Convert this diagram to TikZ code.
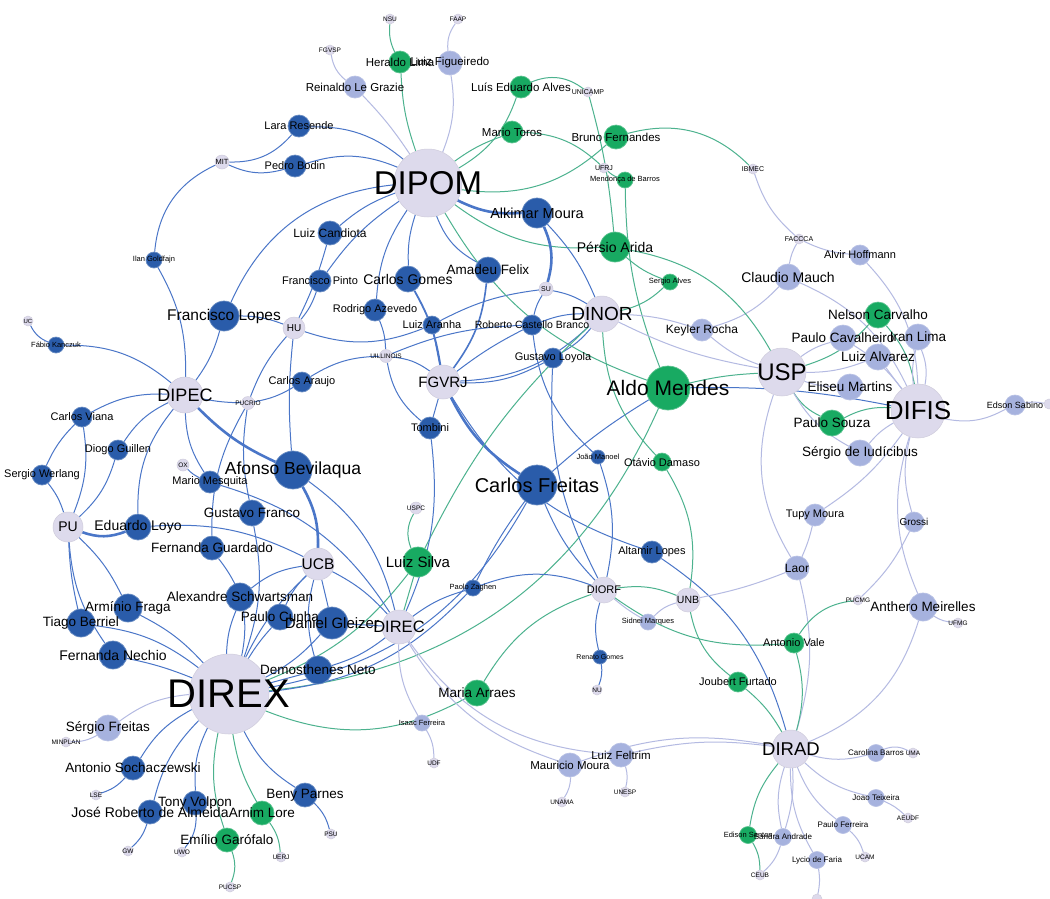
\documentclass[tikz,border=0pt]{standalone}
\usepackage{fontspec}
\setmainfont{Liberation Sans}
\pgfdeclarelayer{bg}\pgfdeclarelayer{fg}\pgfsetlayers{bg,main,fg}
\definecolor{cB}{RGB}{42,92,170}
\definecolor{cG}{RGB}{24,170,98}
\definecolor{cL}{RGB}{166,178,222}
\definecolor{cI}{RGB}{221,218,236}
\definecolor{eB}{RGB}{74,118,200}
\definecolor{eG}{RGB}{76,178,142}
\definecolor{eL}{RGB}{180,186,226}
\tikzset{
 nb/.style={circle,inner sep=0pt,minimum size=#1,fill=cB,draw=cB!70!white,line width=0.7pt},
 ng/.style={circle,inner sep=0pt,minimum size=#1,fill=cG,draw=cG!70!white,line width=0.7pt},
 nl/.style={circle,inner sep=0pt,minimum size=#1,fill=cL,draw=cL!80!white,line width=0.7pt},
 ni/.style={circle,inner sep=0pt,minimum size=#1,fill=cI,draw=cI!85!gray,line width=0.5pt},
 L/.style={font=\fontsize{#1}{#1}\selectfont,inner sep=0pt,text=black},
 eb/.style={draw=eB,line width=1pt},
 ebt/.style={draw=eB,line width=2.6pt},
 eg/.style={draw=eG,line width=1pt},
 el/.style={draw=eL,line width=1pt},
}
\begin{document}
\begin{tikzpicture}[x=1pt,y=1pt]
\useasboundingbox (0,0) rectangle (1050,-898);
% ---------- institutions / departments
\node[ni=68pt] (dipom) at (428,-183) {};
\node[ni=80pt] (direx) at (229,-694) {};
\node[ni=36pt] (dipec) at (185,-395) {};
\node[ni=36pt] (dinor) at (602,-314) {};
\node[ni=54pt] (difis) at (918,-411) {};
\node[ni=48pt] (usp) at (782,-372) {};
\node[ni=38pt] (dirad) at (791,-749) {};
\node[ni=34pt] (direc) at (399,-627) {};
\node[ni=32pt] (ucb) at (318,-564) {};
\node[ni=34pt] (fgvrj) at (443,-382) {};
\node[ni=26pt] (diorf) at (604,-590) {};
\node[ni=30pt] (pu) at (68,-527) {};
\node[ni=24pt] (unb) at (688,-600) {};
\node[ni=22pt] (hu) at (294,-328) {};
\node[ni=13pt] (pucrio) at (248,-403) {};
\node[ni=13pt] (uill) at (386,-356) {};
\node[ni=14pt] (su) at (546,-289) {};
\node[ni=14pt] (mit) at (222,-162) {};
\node[ni=12pt] (ox) at (183,-465) {};
\node[ni=12pt] (uspc) at (416,-508) {};
\node[ni=10pt] (uc) at (28,-321) {};
\node[ni=10pt] (fgvsp) at (330,-50) {};
\node[ni=10pt] (nsu) at (390,-19) {};
\node[ni=10pt] (faap) at (458,-19) {};
\node[ni=10pt] (unicamp) at (588,-92) {};
\node[ni=10pt] (ufrj) at (604,-168) {};
\node[ni=10pt] (ibmec) at (753,-169) {};
\node[ni=10pt] (faccca) at (799,-239) {};
\node[ni=10pt] (minplan) at (66,-742) {};
\node[ni=10pt] (lse) at (96,-795) {};
\node[ni=10pt] (gw) at (128,-851) {};
\node[ni=10pt] (uwo) at (182,-852) {};
\node[ni=10pt] (pucsp) at (230,-887) {};
\node[ni=10pt] (uerj) at (281,-857) {};
\node[ni=10pt] (psu) at (331,-834) {};
\node[ni=10pt] (udf) at (434,-763) {};
\node[ni=10pt] (unama) at (562,-802) {};
\node[ni=10pt] (unesp) at (625,-792) {};
\node[ni=10pt] (nu) at (597,-690) {};
\node[ni=10pt] (pucmg) at (858,-600) {};
\node[ni=10pt] (ufmg) at (958,-623) {};
\node[ni=10pt] (uma) at (913,-753) {};
\node[ni=10pt] (aeudf) at (908,-818) {};
\node[ni=10pt] (ucam) at (865,-857) {};
\node[ni=10pt] (ceub) at (760,-875) {};
\node[ni=10pt] (xbot) at (817,-899) {};
\node[ni=10pt] (xright) at (1049,-404) {};
% ---------- dark blue people
\node[nb=22pt] (lara) at (299,-126) {};
\node[nb=22pt] (bodin) at (295,-166) {};
\node[nb=16pt] (ilan) at (154,-260) {};
\node[nb=24pt] (candiota) at (330,-233) {};
\node[nb=22pt] (fpinto) at (320,-281) {};
\node[nb=26pt] (cgomes) at (408,-279) {};
\node[nb=26pt] (amadeu) at (488,-270) {};
\node[nb=30pt] (alkimar) at (537,-213) {};
\node[nb=22pt] (razevedo) at (375,-310) {};
\node[nb=18pt] (laranha) at (432,-325) {};
\node[nb=20pt] (rcb) at (532,-325) {};
\node[nb=20pt] (gloyola) at (553,-358) {};
\node[nb=30pt] (flopes) at (224,-316) {};
\node[nb=16pt] (fabio) at (56,-345) {};
\node[nb=20pt] (caraujo) at (302,-382) {};
\node[nb=20pt] (cviana) at (82,-417) {};
\node[nb=20pt] (guillen) at (118,-450) {};
\node[nb=20pt] (werlang) at (42,-475) {};
\node[nb=22pt] (tombini) at (430,-428) {};
\node[nb=22pt] (mesquita) at (210,-482) {};
\node[nb=38pt] (afonso) at (293,-470) {};
\node[nb=26pt] (gfranco) at (252,-513) {};
\node[nb=26pt] (eloyo) at (138,-527) {};
\node[nb=24pt] (guardado) at (212,-548) {};
\node[nb=40pt] (cfreitas) at (537,-485) {};
\node[nb=14pt] (joao) at (598,-457) {};
\node[nb=22pt] (altamir) at (652,-552) {};
\node[nb=16pt] (paolo) at (473,-588) {};
\node[nb=28pt] (schwarts) at (240,-597) {};
\node[nb=26pt] (pcunha) at (280,-617) {};
\node[nb=32pt] (gleizer) at (332,-623) {};
\node[nb=28pt] (demost) at (318,-670) {};
\node[nb=28pt] (arminio) at (128,-608) {};
\node[nb=28pt] (berriel) at (81,-623) {};
\node[nb=28pt] (nechio) at (113,-655) {};
\node[nb=24pt] (socha) at (133,-768) {};
\node[nb=24pt] (jrobert) at (150,-812) {};
\node[nb=24pt] (volpon) at (195,-803) {};
\node[nb=24pt] (beny) at (305,-795) {};
\node[nb=14pt] (renato) at (600,-657) {};
% ---------- green people
\node[ng=22pt] (heraldo) at (400,-62) {};
\node[ng=22pt] (luised) at (521,-87) {};
\node[ng=22pt] (toros) at (512,-132) {};
\node[ng=24pt] (bruno) at (616,-137) {};
\node[ng=16pt] (mendonca) at (625,-180) {};
\node[ng=30pt] (persio) at (615,-247) {};
\node[ng=16pt] (salves) at (670,-282) {};
\node[ng=44pt] (aldo) at (668,-388) {};
\node[ng=18pt] (otavio) at (662,-462) {};
\node[ng=26pt] (nelson) at (878,-315) {};
\node[ng=26pt] (psouza) at (832,-423) {};
\node[ng=30pt] (lsilva) at (418,-562) {};
\node[ng=26pt] (arraes) at (477,-693) {};
\node[ng=20pt] (avale) at (794,-643) {};
\node[ng=20pt] (joubert) at (738,-682) {};
\node[ng=24pt] (arnim) at (262,-813) {};
\node[ng=24pt] (emilio) at (227,-840) {};
\node[ng=17pt] (edison) at (748,-835) {};
% ---------- light blue people
\node[nl=24pt] (figuei) at (450,-63) {};
\node[nl=22pt] (grazie) at (355,-87) {};
\node[nl=26pt] (claudio) at (788,-277) {};
\node[nl=20pt] (alvir) at (860,-255) {};
\node[nl=22pt] (keyler) at (702,-330) {};
\node[nl=26pt] (cavalh) at (843,-338) {};
\node[nl=26pt] (iran) at (918,-337) {};
\node[nl=26pt] (alvarez) at (878,-357) {};
\node[nl=26pt] (eliseu) at (850,-387) {};
\node[nl=26pt] (iudic) at (860,-453) {};
\node[nl=20pt] (sabino) at (1015,-405) {};
\node[nl=22pt] (tupy) at (815,-515) {};
\node[nl=20pt] (grossi) at (914,-522) {};
\node[nl=24pt] (laor) at (797,-568) {};
\node[nl=28pt] (anthero) at (923,-607) {};
\node[nl=16pt] (sidnei) at (648,-622) {};
\node[nl=26pt] (sfreitas) at (108,-728) {};
\node[nl=16pt] (isaac) at (422,-723) {};
\node[nl=24pt] (mauricio) at (570,-765) {};
\node[nl=24pt] (feltrim) at (621,-755) {};
\node[nl=17pt] (carolina) at (876,-753) {};
\node[nl=17pt] (jteix) at (876,-798) {};
\node[nl=17pt] (pferr) at (843,-825) {};
\node[nl=17pt] (andrade) at (783,-837) {};
\node[nl=17pt] (lycio) at (817,-860) {};
% ---------- edges
\begin{pgfonlayer}{bg}
\fill[white] (0,0) rectangle (1050,-898);
% top
\draw[eg] (nsu) to[bend right=15] (heraldo);
\draw[el] (faap) to[bend right=20] (figuei);
\draw[eg] (heraldo) to[bend right=8] (dipom);
\draw[el] (figuei) to[bend left=15] (dipom);
\draw[el] (fgvsp) to[bend right=20] (grazie);
\draw[el] (grazie) to[bend left=5] (dipom);
\draw[eb] (lara) to[bend left=20] (dipom);
\draw[eb] (bodin) to[bend left=20] (dipom);
\draw[eb] (mit) to[bend right=25] (lara);
\draw[eb] (mit) to[bend right=20] (bodin);
\draw[eb] (mit) to[bend right=30] (ilan);
\draw[eb] (ilan) to[bend left=15] (dipec);
\draw[eb] (candiota) to[bend left=10] (dipom);
\draw[eb] (fpinto) to[bend left=10] (dipom);
\draw[eb] (flopes) to[bend left=30] (dipom);
\draw[eb] (cgomes) to[bend left=10] (dipom);
\draw[eb] (razevedo) to[bend left=15] (dipom);
\draw[eb] (amadeu) to[bend left=20] (dipom);
\draw[ebt] (dipom) to[bend right=15] (alkimar);
\draw[eg] (dipom) to[bend right=20] (persio);
\draw[eg] (dipom) to[bend right=25] (bruno);
\draw[eg] (dipom) to[bend left=8] (toros);
\draw[eg] (dipom) to[bend right=20] (luised);
\draw[eg] (luised) to[bend left=30] (unicamp);
\draw[eg] (unicamp) to[bend left=5] (persio);
\draw[eg] (toros) to[bend left=20] (ufrj);
\draw[eg] (ufrj) to[bend right=10] (mendonca);
\draw[eg] (bruno) to[bend left=30] (ibmec);
\draw[eg] (mendonca) to[bend right=10] (aldo);
\draw[el] (ibmec) to[bend right=15] (faccca);
\draw[el] (faccca) to[bend right=10] (claudio);
\draw[el] (faccca) to[bend right=10] (alvir);
\draw[el] (alvir) to[bend left=20] (difis);
\draw[el] (claudio) to[bend left=20] (difis);
\draw[el] (keyler) to[bend right=15] (claudio);
\draw[el] (dinor) to[bend left=8] (keyler);
\draw[el] (dinor) to[bend right=8] (usp);
\draw[el] (keyler) to[bend right=10] (usp);
\draw[eg] (persio) to[bend right=10] (salves);
\draw[eg] (salves) to[bend left=15] (dinor);
\draw[eg] (persio) to[bend left=25] (usp);
\draw[ebt] (alkimar) to[bend left=20] (su);
\draw[eb] (alkimar) to[bend left=10] (dinor);
\draw[eb] (su) to[bend right=10] (rcb);
\draw[eb] (laranha) to[bend left=10] (su);
\draw[eb] (su) to[bend left=10] (dinor);
\draw[eb,line width=1.6pt] (amadeu) to[bend left=15] (fgvrj);
\draw[eb,line width=1.8pt] (cgomes) to[bend left=10] (fgvrj);
\draw[eb] (hu) to[bend right=20] (laranha);
\draw[eb] (rcb) to[bend right=5] (fgvrj);
\draw[eb] (fgvrj) to[bend right=15] (gloyola);
\draw[eb] (fgvrj) to[bend right=20] (dinor);
\draw[eb] (rcb) to[bend left=10] (dinor);
\draw[eb] (gloyola) to[bend right=10] (dinor);
\draw[eb] (rcb) to[bend right=20] (joao);
\draw[eb] (joao) to[bend left=15] (diorf);
\draw[ebt] (fgvrj) to[bend right=15] (cfreitas);
\draw[eb] (cfreitas) to[bend left=5] (aldo);
\draw[eb] (cfreitas) to[bend right=10] (diorf);
\draw[eb] (cfreitas) to[bend right=5] (paolo);
\draw[eb] (fgvrj) to[bend right=20] (altamir);
\draw[eb] (altamir) to[bend left=20] (dirad);
\draw[eb] (gloyola) to[bend right=15] (diorf);
\draw[eg] (dinor) to[bend right=20] (otavio);
\draw[eg] (otavio) to[bend left=20] (unb);
\draw[eg] (lsilva) to[bend left=10] (dinor);
\draw[eg] (dipom) to[bend right=20] (aldo);
\draw[eg] (uspc) to[bend right=25] (lsilva);
\draw[eg] (direx) to[bend right=15] (lsilva);
\draw[eg] (direx) to[bend right=30] (aldo);
\draw[eb] (direx) to[bend right=25] (cfreitas);
\draw[eb] (direx) to[bend right=20] (paolo);
\draw[eg] (direx) to[bend right=25] (arraes);
\draw[eg] (arraes) to[bend left=20] (diorf);
\draw[eg] (diorf) to[bend right=20] (avale);
\draw[eg] (diorf) to[bend left=15] (unb);
\draw[eg] (unb) to[bend right=20] (joubert);
\draw[el] (diorf) to[bend right=5] (sidnei);
\draw[el] (unb) to[bend right=15] (sidnei);
\draw[eb] (diorf) to[bend right=15] (renato);
\draw[eb] (renato) to[bend left=15] (nu);
\draw[eb] (paolo) to[bend left=20] (diorf);
\draw[eb] (direc) to[bend left=10] (paolo);
\draw[el] (direc) to[bend right=15] (isaac);
\draw[el] (isaac) to[bend left=15] (udf);
\draw[el] (direc) to[bend right=20] (mauricio);
\draw[el] (direc) to[bend right=25] (feltrim);
\draw[el] (mauricio) to[bend left=15] (unama);
\draw[el] (feltrim) to[bend left=15] (unesp);
\draw[el] (mauricio) to[bend left=15] (dirad);
\draw[el] (feltrim) to[bend left=10] (dirad);
\draw[el] (unb) to[bend right=5] (laor);
\draw[el] (laor) to[bend right=5] (tupy);
\draw[el] (tupy) to[bend right=10] (difis);
\draw[el] (usp) to[bend right=25] (laor);
\draw[el] (laor) to[bend left=15] (dirad);
\draw[eg] (avale) to[bend left=25] (pucmg);
\draw[eg] (avale) to[bend left=15] (dirad);
\draw[eg] (joubert) to[bend left=10] (dirad);
\draw[el] (anthero) to[bend left=25] (dirad);
\draw[el] (anthero) to[bend right=15] (ufmg);
\draw[el] (grossi) to[bend left=10] (pucmg);
\draw[el] (grossi) to[bend left=15] (difis);
\draw[el] (difis) to[bend right=20] (anthero);
\draw[el] (difis) to[bend right=20] (sabino);
\draw[el] (sabino) to[bend left=10] (xright);
\draw[eg] (usp) to[bend right=15] (nelson);
\draw[eg] (usp) to[bend right=15] (psouza);
\draw[eg] (psouza) to[bend left=15] (difis);
\draw[el] (usp) to[bend right=15] (iudic);
\draw[el] (iudic) to[bend left=10] (difis);
\draw[el] (usp) to[bend right=10] (eliseu);
\draw[eb] (aldo) to[bend left=6] (difis);
\draw[el] (usp) to[bend left=10] (cavalh);
\draw[el] (cavalh) to[bend left=10] (difis);
\draw[el] (usp) to[bend right=10] (alvarez);
\draw[el] (alvarez) to (difis);
\draw[eg] (nelson) to[bend left=15] (difis);
\draw[el] (iran) to[bend left=15] (difis);
\draw[el] (iran) to[bend right=10] (difis);
\draw[eg] (aldo) to[bend left=5] (usp);
% DIPEC / PU
\draw[eb] (fabio) to[bend left=20] (uc);
\draw[eb] (fabio) to[bend left=20] (dipec);
\draw[eb] (cviana) to[bend left=15] (dipec);
\draw[eb] (cviana) to[bend right=10] (werlang);
\draw[eb] (cviana) to[bend left=15] (pu);
\draw[eb] (guillen) to[bend left=15] (dipec);
\draw[eb] (guillen) to[bend left=15] (pu);
\draw[eb] (werlang) to[bend left=10] (pu);
\draw[eb] (eloyo) to[bend left=20] (dipec);
\draw[ebt] (pu) to[bend right=20] (eloyo);
\draw[eb] (eloyo) to[bend left=15] (ucb);
\draw[eb] (mesquita) to[bend left=15] (dipec);
\draw[eb] (ox) to[bend right=10] (mesquita);
\draw[eb] (mesquita) to[bend left=20] (direc);
\draw[ebt] (dipec) to[bend right=10] (afonso);
\draw[eb] (dipec) to[bend right=5] (pucrio);
\draw[eb] (dipec) to[bend right=10] (flopes);
\draw[eb] (flopes) to[bend left=10] (hu);
\draw[eb] (hu) to[bend right=10] (fpinto);
\draw[eb] (hu) to[bend right=5] (candiota);
\draw[eb] (hu) to[bend right=10] (pucrio);
\draw[eb] (hu) to[bend right=5] (afonso);
\draw[eb] (pucrio) to[bend right=10] (caraujo);
\draw[eb] (caraujo) to[bend left=15] (uill);
\draw[eb] (pucrio) to[bend right=10] (gfranco);
\draw[eb] (pucrio) to[bend right=15] (guardado);
\draw[eb] (uill) to[bend right=10] (razevedo);
\draw[eb] (uill) to[bend right=20] (tombini);
\draw[eb] (uill) to[bend left=15] (fgvrj);
\draw[eb] (uill) to[bend left=10] (rcb);
\draw[eb] (tombini) to (fgvrj);
\draw[eb] (tombini) to[bend left=15] (direc);
\draw[eb] (laranha) to (fgvrj);
\draw[eb] (afonso) to[bend left=20] (direc);
\draw[ebt] (afonso) to[bend left=15] (ucb);
\draw[eb] (gfranco) to[bend left=15] (direx);
\draw[eb] (guardado) to[bend left=25] (direx);
\draw[eb] (schwarts) to[bend right=10] (direx);
\draw[eb] (schwarts) to[bend left=15] (ucb);
\draw[eb] (pcunha) to[bend left=10] (ucb);
\draw[eb] (pcunha) to[bend right=5] (direx);
\draw[eb] (gleizer) to (ucb);
\draw[eb] (gleizer) to[bend left=10] (direx);
\draw[eb] (gleizer) to (direc);
\draw[eb] (ucb) to[bend right=15] (demost);
\draw[eb] (demost) to (direx);
\draw[eb] (demost) to[bend right=10] (direc);
\draw[eb] (ucb) to[bend right=10] (direx);
\draw[eb] (ucb) to[bend left=10] (direc);
\draw[eg] (lsilva) to (direc);
\draw[eb] (pu) to[bend right=5] (berriel);
\draw[eb] (pu) to[bend right=15] (nechio);
\draw[eb] (pu) to[bend left=10] (arminio);
\draw[eb] (berriel) to[bend left=15] (direx);
\draw[eb] (arminio) to[bend left=10] (direx);
\draw[eb] (nechio) to[bend left=5] (direx);
\draw[el] (sfreitas) to[bend left=15] (direx);
\draw[el] (sfreitas) to[bend left=15] (minplan);
\draw[eb] (socha) to[bend left=15] (direx);
\draw[eb] (socha) to[bend left=15] (lse);
\draw[eb] (jrobert) to[bend left=15] (direx);
\draw[eb] (jrobert) to[bend left=15] (gw);
\draw[eb] (volpon) to[bend left=15] (direx);
\draw[eb] (volpon) to[bend left=20] (uwo);
\draw[eg] (emilio) to[bend left=15] (direx);
\draw[eg] (emilio) to[bend left=20] (pucsp);
\draw[eg] (arnim) to[bend left=10] (direx);
\draw[eg] (arnim) to[bend left=15] (uerj);
\draw[eb] (beny) to[bend left=15] (direx);
\draw[eb] (beny) to[bend left=15] (psu);
% DIRAD
\draw[el] (dirad) to[bend right=15] (carolina);
\draw[el] (carolina) to[bend left=25] (uma);
\draw[el] (dirad) to[bend right=15] (jteix);
\draw[el] (jteix) to[bend left=10] (aeudf);
\draw[el] (dirad) to[bend right=15] (pferr);
\draw[el] (pferr) to[bend left=15] (ucam);
\draw[el] (dirad) to[bend right=15] (lycio);
\draw[el] (lycio) to[bend left=10] (xbot);
\draw[el] (dirad) to[bend right=15] (andrade);
\draw[el] (dirad) to[bend left=10] (andrade);
\draw[el] (andrade) to[bend left=15] (ceub);
\draw[eg] (dirad) to[bend right=15] (edison);
\draw[eg] (edison) to[bend left=15] (ceub);
\end{pgfonlayer}
% ---------- labels
\begin{pgfonlayer}{fg}
\node[L=33] at (dipom) {DIPOM};
\node[L=40] at (direx) {DIREX};
\node[L=18] at (dipec) {DIPEC};
\node[L=19] at (dinor) {DINOR};
\node[L=26] at (difis) {DIFIS};
\node[L=24] at (usp) {USP};
\node[L=18.5] at (dirad) {DIRAD};
\node[L=16.5] at (direc) {DIREC};
\node[L=15.5] at (ucb) {UCB};
\node[L=15] at (fgvrj) {FGVRJ};
\node[L=11] at (diorf) {DIORF};
\node[L=14] at (pu) {PU};
\node[L=10.5] at (unb) {UNB};
\node[L=10] at (hu) {HU};
\node[L=6.5] at (pucrio) {PUCRIO};
\node[L=6.5] at (uill) {UILLINOIS};
\node[L=7] at (su) {SU};
\node[L=7.5] at (mit) {MIT};
\node[L=6.5] at (ox) {OX};
\node[L=6.5] at (uspc) {USPC};
\node[L=6] at (uc) {UC};
\node[L=6.5] at (fgvsp) {FGVSP};
\node[L=6.5] at (nsu) {NSU};
\node[L=6.5] at (faap) {FAAP};
\node[L=7] at (unicamp) {UNICAMP};
\node[L=7] at (ufrj) {UFRJ};
\node[L=7] at (ibmec) {IBMEC};
\node[L=7] at (faccca) {FACCCA};
\node[L=6.5] at (minplan) {MINPLAN};
\node[L=6.5] at (lse) {LSE};
\node[L=6.5] at (gw) {GW};
\node[L=6.5] at (uwo) {UWO};
\node[L=6.5] at (pucsp) {PUCSP};
\node[L=6.5] at (uerj) {UERJ};
\node[L=6.5] at (psu) {PSU};
\node[L=6.5] at (udf) {UDF};
\node[L=6.5] at (unama) {UNAMA};
\node[L=6.5] at (unesp) {UNESP};
\node[L=6.5] at (nu) {NU};
\node[L=6.5] at (pucmg) {PUCMG};
\node[L=6.5] at (ufmg) {UFMG};
\node[L=6.5] at (uma) {UMA};
\node[L=6.5] at (aeudf) {AEUDF};
\node[L=6.5] at (ucam) {UCAM};
\node[L=6.5] at (ceub) {CEUB};
\node[L=11] at (lara) {Lara Resende};
\node[L=11] at (bodin) {Pedro Bodin};
\node[L=7.5] at (ilan) {Ilan Goldfajn};
\node[L=12] at (candiota) {Luiz Candiota};
\node[L=11] at (fpinto) {Francisco Pinto};
\node[L=14] at (cgomes) {Carlos Gomes};
\node[L=13.5] at (amadeu) {Amadeu Felix};
\node[L=14.5] at (alkimar) {Alkimar Moura};
\node[L=11] at (razevedo) {Rodrigo Azevedo};
\node[L=11] at (laranha) {Luiz Aranha};
\node[L=10.5] at (rcb) {Roberto Castello Branco};
\node[L=11] at (gloyola) {Gustavo Loyola};
\node[L=15.5] at (flopes) {Francisco Lopes};
\node[L=7.5] at (fabio) {Fábio Kanczuk};
\node[L=11] at (caraujo) {Carlos Araujo};
\node[L=11] at (cviana) {Carlos Viana};
\node[L=11] at (guillen) {Diogo Guillen};
\node[L=11] at (werlang) {Sergio Werlang};
\node[L=11] at (tombini) {Tombini};
\node[L=11] at (mesquita) {Mario Mesquita};
\node[L=17.5] at (afonso) {Afonso Bevilaqua};
\node[L=13.5] at (gfranco) {Gustavo Franco};
\node[L=14] at (eloyo) {Eduardo Loyo};
\node[L=13.5] at (guardado) {Fernanda Guardado};
\node[L=20] at (cfreitas) {Carlos Freitas};
\node[L=7.5] at (joao) {João Manoel};
\node[L=11] at (altamir) {Altamir Lopes};
\node[L=7.5] at (paolo) {Paolo Zaghen};
\node[L=13.5] at (schwarts) {Alexandre Schwartsman};
\node[L=13.5] at (pcunha) {Paulo Cunha};
\node[L=15] at (gleizer) {Daniel Gleizer};
\node[L=13.5] at (demost) {Demosthenes Neto};
\node[L=13.5] at (arminio) {Armínio Fraga};
\node[L=13.5] at (berriel) {Tiago Berriel};
\node[L=14] at (nechio) {Fernanda Nechio};
\node[L=13.5] at (socha) {Antonio Sochaczewski};
\node[L=14] at (jrobert) {José Roberto de Almeida};
\node[L=13.5] at (volpon) {Tony Volpon};
\node[L=13.5] at (beny) {Beny Parnes};
\node[L=7] at (renato) {Renato Gomes};
\node[L=11.5] at (heraldo) {Heraldo Lima};
\node[L=11.5] at (luised) {Luís Eduardo Alves};
\node[L=11.5] at (toros) {Mario Toros};
\node[L=11.5] at (bruno) {Bruno Fernandes};
\node[L=7.5] at (mendonca) {Mendonça de Barros};
\node[L=14] at (persio) {Pérsio Arida};
\node[L=7.5] at (salves) {Sergio Alves};
\node[L=21] at (aldo) {Aldo Mendes};
\node[L=11] at (otavio) {Otávio Damaso};
\node[L=13.5] at (nelson) {Nelson Carvalho};
\node[L=13.5] at (psouza) {Paulo Souza};
\node[L=15] at (lsilva) {Luiz Silva};
\node[L=13.5] at (arraes) {Maria Arraes};
\node[L=11] at (avale) {Antonio Vale};
\node[L=11] at (joubert) {Joubert Furtado};
\node[L=13.5] at (arnim) {Arnim Lore};
\node[L=13.5] at (emilio) {Emílio Garófalo};
\node[L=7.5] at (edison) {Edison Santos};
\node[L=11.5] at (figuei) {Luiz Figueiredo};
\node[L=11.5] at (grazie) {Reinaldo Le Grazie};
\node[L=14] at (claudio) {Claudio Mauch};
\node[L=11] at (alvir) {Alvir Hoffmann};
\node[L=12] at (keyler) {Keyler Rocha};
\node[L=13.5] at (cavalh) {Paulo Cavalheiro};
\node[L=13.5] at (iran) {Iran Lima};
\node[L=13.5] at (alvarez) {Luiz Alvarez};
\node[L=13.5] at (eliseu) {Eliseu Martins};
\node[L=13.5] at (iudic) {Sérgio de Iudícibus};
\node[L=9] at (sabino) {Edson Sabino};
\node[L=11] at (tupy) {Tupy Moura};
\node[L=10] at (grossi) {Grossi};
\node[L=12] at (laor) {Laor};
\node[L=13.5] at (anthero) {Anthero Meirelles};
\node[L=7.5] at (sidnei) {Sidnei Marques};
\node[L=13.5] at (sfreitas) {Sérgio Freitas};
\node[L=7.5] at (isaac) {Isaac Ferreira};
\node[L=11.5] at (mauricio) {Mauricio Moura};
\node[L=11.5] at (feltrim) {Luiz Feltrim};
\node[L=8] at (carolina) {Carolina Barros};
\node[L=8] at (jteix) {Joao Teixeira};
\node[L=8] at (pferr) {Paulo Ferreira};
\node[L=8] at (andrade) {Sandra Andrade};
\node[L=8] at (lycio) {Lycio de Faria};
\end{pgfonlayer}
\end{tikzpicture}
\end{document}
